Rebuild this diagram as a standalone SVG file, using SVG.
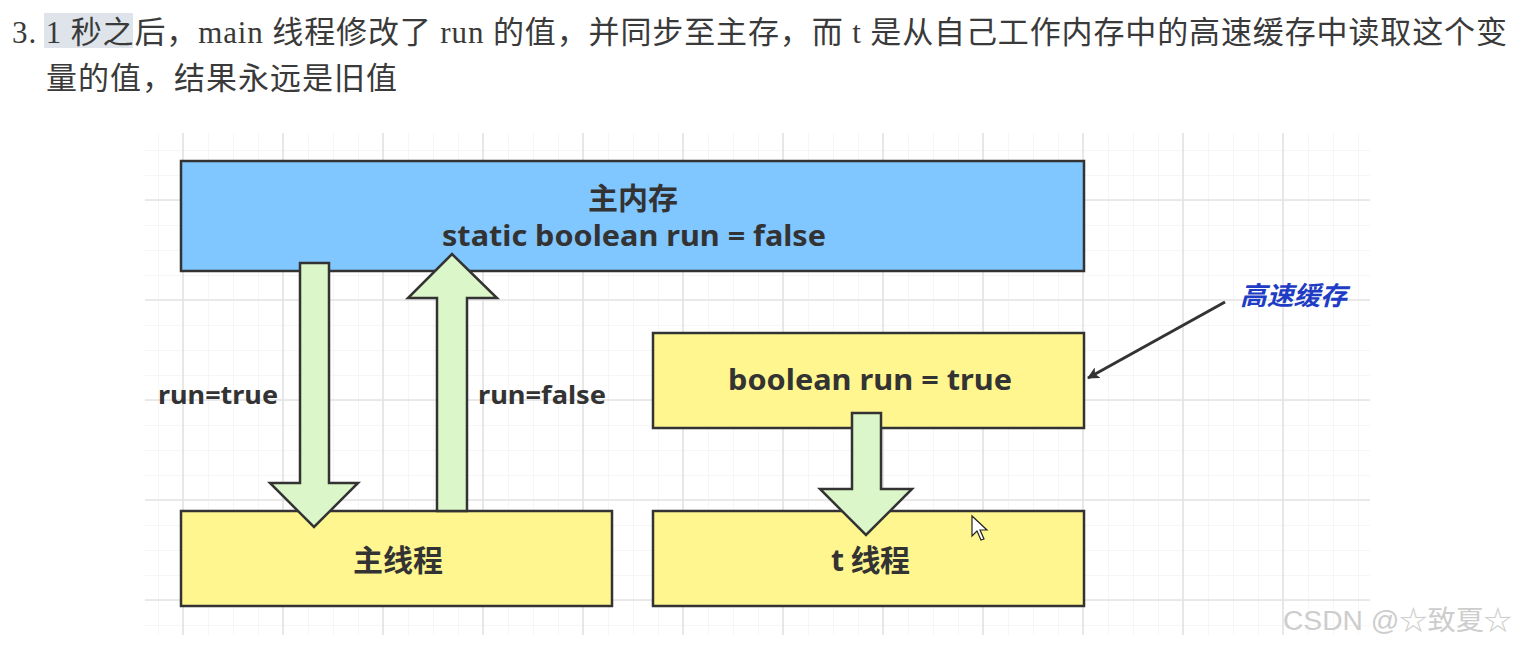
<svg xmlns="http://www.w3.org/2000/svg" width="1517" height="645" viewBox="0 0 1517 645">
<defs>
<style>
.minor{stroke:#ededed;stroke-width:1;fill:none}
.major{stroke:#e3e3e3;stroke-width:1.6;fill:none}
.box{stroke:#333;stroke-width:2.5}
.blue{fill:#80c6ff}
.yellow{fill:#fff68f}
.barrow{fill:#dbf6c8;stroke:#333;stroke-width:2.5;stroke-linejoin:miter}
.t{font-family:"Noto Sans","Noto Sans CJK SC",sans-serif;font-weight:bold;fill:#333}
.c{text-anchor:middle}
.head{font-family:"Liberation Serif","Noto Sans CJK SC",serif;font-size:31px;fill:#3a3a3a}
</style>
<marker id="ah" markerWidth="12" markerHeight="12" refX="11" refY="6" orient="auto" markerUnits="userSpaceOnUse" viewBox="0 0 12 12">
<path d="M0,0 L12,6 L0,12 L3,6 Z" fill="#333"/>
</marker>
<pattern id="gm" x="158" y="150" width="25" height="25" patternUnits="userSpaceOnUse">
<path d="M0,0 V25 M0,0 H25" class="minor"/>
</pattern>
</defs>
<rect width="1517" height="645" fill="#fff"/>
<!-- heading text -->
<rect x="44" y="13" width="89" height="35" fill="#dfe4ea"/>
<text class="head" x="12" y="43" textLength="1495" lengthAdjust="spacing">3. 1 秒之后，main 线程修改了 run 的值，并同步至主存，而 t 是从自己工作内存中的高速缓存中读取这个变</text>
<text class="head" x="46" y="89" textLength="351" lengthAdjust="spacing">量的值，结果永远是旧值</text>
<!-- grid -->
<g id="grid">
<rect x="145" y="133" width="1225" height="502" fill="url(#gm)"/>
<path class="major" d="M183,133V635M283,133V635M383,133V635M483,133V635M583,133V635M683,133V635M783,133V635M883,133V635M983,133V635M1083,133V635M1183,133V635M1283,133V635M145,200H1370M145,300H1370M145,400H1370M145,500H1370M145,600H1370"/>
</g>
<!-- nodes -->
<g id="main-memory">
<rect class="box blue" x="181" y="161" width="903" height="110"/>
<text class="t c" x="633" y="209" font-size="30">主内存</text>
<text class="t" x="442" y="246" font-size="28" textLength="384" lengthAdjust="spacingAndGlyphs">static boolean run = false</text>
</g>
<g id="main-thread">
<rect class="box yellow" x="181" y="511" width="431" height="95"/>
<text class="t c" x="398" y="571" font-size="30">主线程</text>
</g>
<g id="cache">
<rect class="box yellow" x="653" y="333" width="431" height="95"/>
<text class="t" x="728" y="390" font-size="28" textLength="284" lengthAdjust="spacingAndGlyphs">boolean run = true</text>
</g>
<g id="t-thread">
<rect class="box yellow" x="653" y="511" width="431" height="95"/>
<text class="t" x="831" y="571" font-size="30" textLength="79" lengthAdjust="spacing">t 线程</text>
</g>
<g id="cache-label">
<text x="1240" y="305" font-family="'Noto Sans CJK SC',sans-serif" font-size="26" font-style="italic" font-weight="bold" fill="#1f3dc4" textLength="107" lengthAdjust="spacingAndGlyphs">高速缓存</text>
</g>
<!-- connectors -->
<g id="connectors">
<polygon class="barrow" points="300,263 329,263 329,483 358,483 314,527 270,483 300,483"/>
<polygon class="barrow" points="437,511 437,298 408,298 452,254 497,298 467,298 467,511"/>
<polygon class="barrow" points="852,413 881,413 881,489 912,489 866,535 820,489 852,489"/>
<line x1="1225" y1="302" x2="1088" y2="378" stroke="#333" stroke-width="3" marker-end="url(#ah)"/>
<text class="t" x="158" y="404" font-size="25" textLength="120" lengthAdjust="spacingAndGlyphs">run=true</text>
<text class="t" x="478" y="404" font-size="25" textLength="128" lengthAdjust="spacingAndGlyphs">run=false</text>
</g>
<!-- mouse cursor -->
<path d="M972,516 L972,536 L977,531 L981,540 L984,539 L980,530 L987,530 Z" fill="#fff" stroke="#222" stroke-width="1.2"/>
<!-- watermark -->
<text x="1283" y="630" font-family="'Liberation Sans','Noto Sans CJK SC',sans-serif" font-size="27" fill="#cdcdcd" textLength="229" lengthAdjust="spacingAndGlyphs">CSDN @☆致夏☆</text>
</svg>
